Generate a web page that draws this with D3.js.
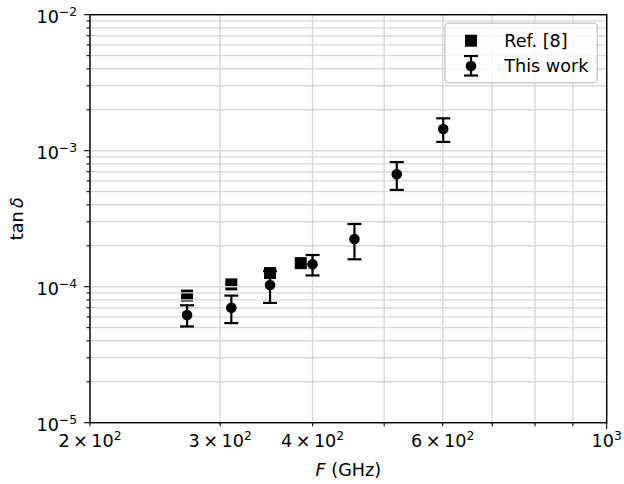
<!DOCTYPE html>
<html lang="en">
<head>
<meta charset="utf-8">
<title>tan delta vs F</title>
<script src="https://cdn.jsdelivr.net/npm/d3@7"></script>
<style>
  body { margin: 0; background: #fff; }
  text { font-family: "DejaVu Sans", sans-serif; fill: #000; }
</style>
</head>
<body>
<div id="chart"></div>
<script>
// Ref. [8] points (squares)
var refFreq = [270.6, 310.6, 350.4, 385.6];
var refTan = [8.6e-5, 1.04e-4, 1.26e-4, 1.49e-4];

// This work (circles with error bars)
var workFreq = [270.6, 310.6, 350.4, 400, 455.8, 520, 601];
var workTan = [6.2e-5, 7.0e-5, 1.03e-4, 1.46e-4, 2.24e-4, 6.7e-4, 1.445e-3];
var workErr = [1.1e-5, 1.6e-5, 2.7e-5, 2.5e-5, 6.5e-5, 1.55e-4, 2.85e-4];

// ticks
var xMinor = [200, 300, 400, 500, 600, 700, 800, 900];
var xMajor = [1000];
var xLabels = [[200, "2", "2"], [300, "3", "2"], [400, "4", "2"], [600, "6", "2"], [1000, null, "3"]];
var yMajor = [1e-5, 1e-4, 1e-3, 1e-2];
var yExp = ["\u22125", "\u22124", "\u22123", "\u22122"];

drawChart();

function drawChart() {
  var w = 624, h = 484;
  var pl = 90, pr = 606.7, pt = 14.7, pb = 422.7;
  var fs = 17.6;

  var svg = d3.select("#chart").append("svg")
      .attr("width", w).attr("height", h);

  var xScale = d3.scaleLog().domain([200, 1000]).range([pl, pr]);
  var yScale = d3.scaleLog().domain([1e-5, 1e-2]).range([pb, pt]);

  var yMinor = [];
  yMajor.slice(0, 3).forEach(function(d) {
    for (var k = 2; k <= 9; k++) yMinor.push(d * k);
  });

  var gridColor = "#d8d8d8";

  // squares first (grid shows over them in the reference)
  svg.append("g").selectAll("rect")
    .data(refFreq)
    .enter().append("rect")
    .attr("x", function(d) { return xScale(d) - 6; })
    .attr("y", function(d, i) { return yScale(refTan[i]) - 6; })
    .attr("width", 12).attr("height", 12)
    .style("fill", "#000");

  // grid
  var grid = svg.append("g");
  grid.selectAll("line.gx")
    .data(xMinor.concat(xMajor))
    .enter().append("line")
    .attr("x1", function(d) { return xScale(d); })
    .attr("x2", function(d) { return xScale(d); })
    .attr("y1", pt).attr("y2", pb)
    .style("stroke", gridColor).style("stroke-width", 1.4);
  grid.selectAll("line.gy")
    .data(yMajor.concat(yMinor))
    .enter().append("line")
    .attr("y1", function(d) { return yScale(d); })
    .attr("y2", function(d) { return yScale(d); })
    .attr("x1", pl).attr("x2", pr)
    .style("stroke", gridColor).style("stroke-width", 1.4);

  // error bars + circles
  var eb = svg.append("g").selectAll("g")
    .data(workFreq)
    .enter().append("g");
  eb.append("line")
    .attr("x1", function(d) { return xScale(d); })
    .attr("x2", function(d) { return xScale(d); })
    .attr("y1", function(d, i) { return yScale(workTan[i] + workErr[i]); })
    .attr("y2", function(d, i) { return yScale(workTan[i] - workErr[i]); })
    .style("stroke", "#000").style("stroke-width", 2.2);
  [1, -1].forEach(function(s) {
    eb.append("line")
      .attr("x1", function(d) { return xScale(d) - 7; })
      .attr("x2", function(d) { return xScale(d) + 7; })
      .attr("y1", function(d, i) { return yScale(workTan[i] + s * workErr[i]); })
      .attr("y2", function(d, i) { return yScale(workTan[i] + s * workErr[i]); })
      .style("stroke", "#000").style("stroke-width", 2.2);
  });
  eb.append("circle")
    .attr("cx", function(d) { return xScale(d); })
    .attr("cy", function(d, i) { return yScale(workTan[i]); })
    .attr("r", 5.3)
    .style("fill", "#000");

  // ticks
  var axes = svg.append("g");
  axes.selectAll("line.tx")
    .data(xMinor.concat(xMajor))
    .enter().append("line")
    .attr("x1", function(d) { return xScale(d); })
    .attr("x2", function(d) { return xScale(d); })
    .attr("y1", pb)
    .attr("y2", function(d) { return pb + (d === 1000 ? 6.2 : 3.5); })
    .style("stroke", "#000").style("stroke-width", 1.1);
  axes.selectAll("line.ty")
    .data(yMajor.concat(yMinor))
    .enter().append("line")
    .attr("y1", function(d) { return yScale(d); })
    .attr("y2", function(d) { return yScale(d); })
    .attr("x1", pl)
    .attr("x2", function(d) { return pl - (yMajor.indexOf(d) >= 0 ? 6.2 : 3.5); })
    .style("stroke", "#000").style("stroke-width", 1.1);

  // spines
  svg.append("rect")
    .attr("x", pl).attr("y", pt)
    .attr("width", pr - pl).attr("height", pb - pt)
    .style("fill", "none").style("stroke", "#000").style("stroke-width", 1.4);

  // x tick labels
  xLabels.forEach(function(t) {
    var tx = svg.append("text")
      .attr("x", xScale(t[0])).attr("y", 446.5)
      .attr("text-anchor", "middle")
      .style("font-size", fs + "px");
    if (t[1]) tx.append("tspan").text(t[1] + "\u2009\u00d7\u2009");
    tx.append("tspan").text("10");
    tx.append("tspan").attr("dy", -7).style("font-size", (fs * 0.7) + "px").text(t[2]);
  });

  // y tick labels
  yMajor.forEach(function(d, i) {
    var ty = svg.append("text")
      .attr("x", 77).attr("y", yScale(d) + 8)
      .attr("text-anchor", "end")
      .style("font-size", fs + "px");
    ty.append("tspan").text("10");
    ty.append("tspan").attr("dy", -7).style("font-size", (fs * 0.7) + "px").text(yExp[i]);
  });

  // axis labels
  var xl = svg.append("text")
    .attr("x", (pl + pr) / 2).attr("y", 476)
    .attr("text-anchor", "middle")
    .style("font-size", fs + "px");
  xl.append("tspan").style("font-style", "oblique").text("F");
  xl.append("tspan").text(" (GHz)");

  var yl = svg.append("text")
    .attr("transform", "translate(23," + ((pt + pb) / 2) + ") rotate(-90)")
    .attr("text-anchor", "middle")
    .style("font-size", fs + "px");
  yl.append("tspan").text("tan\u2009");
  yl.append("tspan").style("font-style", "oblique").text("\u03b4");

  // legend
  var lg = svg.append("g");
  lg.append("rect")
    .attr("x", 445).attr("y", 23.3)
    .attr("width", 152.3).attr("height", 59.4)
    .attr("rx", 3.5)
    .style("fill", "#fff").style("fill-opacity", 0.8)
    .style("stroke", "#cccccc").style("stroke-width", 1.4);
  lg.append("rect")
    .attr("x", 471 - 6).attr("y", 40.7 - 6)
    .attr("width", 12).attr("height", 12)
    .style("fill", "#000");
  lg.append("line")
    .attr("x1", 471).attr("x2", 471).attr("y1", 56).attr("y2", 75.5)
    .style("stroke", "#000").style("stroke-width", 2.2);
  [56, 75.5].forEach(function(yy) {
    lg.append("line")
      .attr("x1", 464).attr("x2", 478).attr("y1", yy).attr("y2", yy)
      .style("stroke", "#000").style("stroke-width", 2.2);
  });
  lg.append("circle").attr("cx", 471).attr("cy", 66).attr("r", 5.3).style("fill", "#000");
  lg.append("text").attr("x", 504.3).attr("y", 46.7).style("font-size", fs + "px").text("Ref. [8]");
  lg.append("text").attr("x", 504.3).attr("y", 71.7).style("font-size", fs + "px").text("This work");
}
</script>
</body>
</html>
